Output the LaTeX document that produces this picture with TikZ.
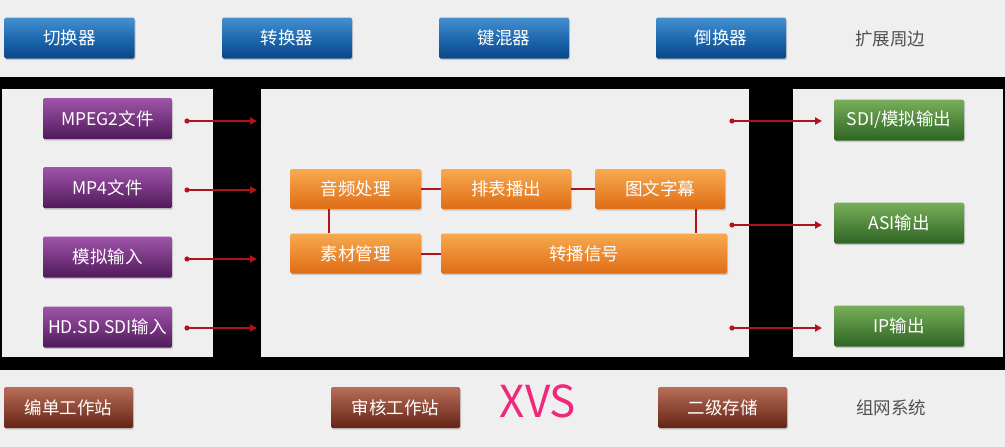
\documentclass[tikz,border=0pt]{standalone}
\usepackage{fontspec}
\setmainfont{Noto Sans CJK SC}
\usetikzlibrary{shadows,arrows.meta}
\definecolor{bgc}{HTML}{EFEFEF}
\definecolor{linkc}{HTML}{B0141A}
\definecolor{labc}{HTML}{505050}
\definecolor{xvsc}{HTML}{F0287A}
\tikzset{
  box/.style={rectangle, rounded corners=1.5pt, minimum height=41pt, inner sep=0pt,
    text=white, font=\fontsize{17.5}{19}\selectfont,
    drop shadow={shadow xshift=1pt, shadow yshift=-1.5pt, opacity=0.35}},
  bluebox/.style={box, minimum width=130pt, bottom color={rgb,255:red,10;green,70;blue,135},
    top color={rgb,255:red,70;green,145;blue,210}, middle color={rgb,255:red,30;green,105;blue,175}},
  purplebox/.style={box, minimum width=129pt, top color={rgb,255:red,160;green,85;blue,170},
    middle color={rgb,255:red,120;green,50;blue,135}, bottom color={rgb,255:red,80;green,25;blue,90}},
  orangebox/.style={box, minimum height=40pt, top color={rgb,255:red,248;green,170;blue,80},
    middle color={rgb,255:red,240;green,140;blue,45}, bottom color={rgb,255:red,222;green,108;blue,22}},
  greenbox/.style={box, minimum width=130pt, top color={rgb,255:red,120;green,175;blue,90},
    middle color={rgb,255:red,80;green,140;blue,55}, bottom color={rgb,255:red,45;green,100;blue,35}},
  brownbox/.style={box, minimum width=129pt, top color={rgb,255:red,185;green,110;blue,90},
    middle color={rgb,255:red,145;green,70;blue,50}, bottom color={rgb,255:red,100;green,35;blue,20}},
  link/.style={draw=linkc, line width=2pt},
  arr/.style={draw=linkc, line width=2pt, -{Triangle[length=7pt,width=7pt]}},
  dotc/.style={fill=linkc},
  lab/.style={text=labc, font=\fontsize{17.5}{19}\selectfont, inner sep=0pt}
}
\begin{document}
\begin{tikzpicture}[x=1pt,y=-1pt]
\useasboundingbox (0,0) rectangle (1005,447);
% background
\fill[bgc] (0,0) rectangle (1005,447);
\fill[black] (0,77) rectangle (1005,370);
\fill[bgc] (2,89) rectangle (213,357);
\fill[bgc] (261,89) rectangle (749,357);
\fill[bgc] (793,89) rectangle (1003,357);
% top row
\node[bluebox] (qh) at (69.5,38) {切换器};
\node[bluebox] (zh) at (287,38) {转换器};
\node[bluebox] (jh) at (504,38) {键混器};
\node[bluebox] (dh) at (721,38) {倒换器};
\node[lab] (kz) at (890,39) {扩展周边};
% inputs
\node[purplebox] (m1) at (107.5,118.5) {MPEG2文件};
\node[purplebox] (m2) at (107.5,187.5) {MP4文件};
\node[purplebox] (m3) at (107.5,257) {模拟输入};
\node[purplebox] (m4) at (107.5,327) {HD.SD SDI输入};
\foreach \n/\yy in {m1/121,m2/190,m3/259,m4/328}{
  \coordinate (\n s) at (187,\yy);
  \coordinate (\n e) at (257,\yy);
  \draw[arr] (\n s) -- (\n e);
  \fill[dotc] (\n s) circle (2.6pt);
}
% center
\node[orangebox, minimum width=131pt] (yp) at (355.5,189) {音频处理};
\node[orangebox, minimum width=130pt] (pb) at (506,189) {排表播出};
\node[orangebox, minimum width=130pt] (tw) at (660,189) {图文字幕};
\node[orangebox, minimum width=131pt] (sc) at (355.5,253.5) {素材管理};
\node[orangebox, minimum width=286pt] (zb) at (584,253.5) {转播信号};
\draw[link] (yp.east) -- (pb.west);
\draw[link] (pb.east) -- (tw.west);
\draw[link] (sc.east) -- (zb.west);
\draw[link] ([xshift=-26.5pt]yp.south) -- ([xshift=-26.5pt]sc.north);
\draw[link] ([xshift=36pt]tw.south) -- ([xshift=36pt]tw.south |- zb.north);
% outputs
\node[greenbox] (o1) at (899,120) {SDI/模拟输出};
\node[greenbox] (o2) at (899,223) {ASI输出};
\node[greenbox] (o3) at (899,326) {IP输出};
\foreach \n/\yy in {o1/121,o2/225,o3/328}{
  \coordinate (\n s) at (732,\yy);
  \coordinate (\n e) at (822,\yy);
  \draw[arr] (\n s) -- (\n e);
  \fill[dotc] (\n s) circle (2.6pt);
}
% bottom
\node[brownbox] (bd) at (68.5,407.5) {编单工作站};
\node[brownbox] (sh) at (395.5,407.5) {审核工作站};
\node[brownbox] (ej) at (722.5,407.5) {二级存储};
\node[text=xvsc, font=\fontsize{44}{48}\selectfont, inner sep=0pt] (xvs) at (538,401) {XVS};
\node[lab] (zw) at (891,408) {组网系统};
\end{tikzpicture}
\end{document}
